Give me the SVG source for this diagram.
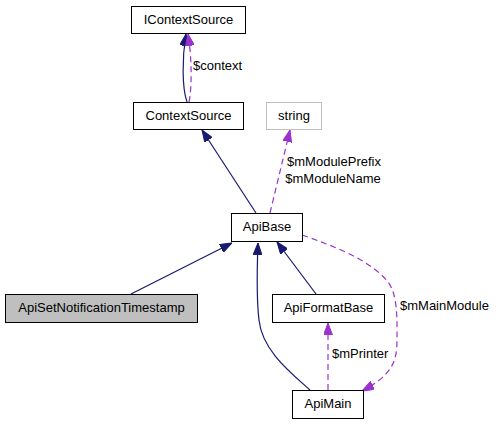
<svg xmlns="http://www.w3.org/2000/svg" width="496" height="424" viewBox="0 0 496 424">
<style>
text{font-family:"Liberation Sans",Arial,sans-serif;font-size:13px;fill:#000}
.n{text-anchor:middle}
.box{fill:#fff;stroke:#000;stroke-width:1}
.inh{fill:none;stroke:#191970;stroke-width:1.2}
.use{fill:none;stroke:#9a32cd;stroke-width:1.2;stroke-dasharray:6,4}
</style>
<defs>
<marker id="an" viewBox="0 0 12 9" refX="12" refY="4.5" markerWidth="12" markerHeight="9" markerUnits="userSpaceOnUse" orient="auto"><path d="M0,0 L12,4.5 L0,9 z" fill="#191970" stroke="#191970"/></marker>
<marker id="ap" viewBox="0 0 12 9" refX="12" refY="4.5" markerWidth="12" markerHeight="9" markerUnits="userSpaceOnUse" orient="auto"><path d="M0,0 L12,4.5 L0,9 z" fill="#9a32cd" stroke="#9a32cd"/></marker>
</defs>
<g id="edges">
<path class="inh" d="M187,102 C182,88 182,58 186,34" marker-end="url(#an)"/>
<path class="use" d="M189,102 C192,88 192,58 188,34" marker-end="url(#ap)"/>
<text x="193" y="70">$context</text>
<path class="inh" d="M256,213 L202,130" marker-end="url(#an)"/>
<path class="use" d="M270,213 L290,130" marker-end="url(#ap)"/>
<text class="n" x="334" y="166">$mModulePrefix</text>
<text class="n" x="333" y="183">$mModuleName</text>
<path class="inh" d="M131,294 L232,243" marker-end="url(#an)"/>
<path class="inh" d="M316,294 L277,242" marker-end="url(#an)"/>
<path class="inh" d="M310,390 C290,372 262,350 259,320 C256,295 257,270 258,243" marker-end="url(#an)"/>
<path class="use" d="M328,390 L328,323" marker-end="url(#ap)"/>
<text x="332" y="358">$mPrinter</text>
<path class="use" d="M302,235 C340,248 372,262 388,282 C398,295 397,320 397,340 C397,362 392,375 362,391" marker-end="url(#ap)"/>
<text x="400" y="310">$mMainModule</text>
</g>
<g id="IContextSource"><rect class="box" x="131.5" y="6.5" width="114" height="27"/><text class="n" x="188.5" y="24">IContextSource</text></g>
<g id="ContextSource"><rect class="box" x="133.5" y="102.5" width="110" height="27"/><text class="n" x="188.5" y="120">ContextSource</text></g>
<g id="string"><rect class="box" x="266.5" y="102.5" width="55" height="27" style="stroke:#bfbfbf"/><text class="n" x="294" y="120">string</text></g>
<g id="ApiBase"><rect class="box" x="231.5" y="213.5" width="71" height="28"/><text class="n" x="267" y="231">ApiBase</text></g>
<g id="ApiSetNotificationTimestamp"><rect class="box" x="5.5" y="294.5" width="192" height="28" style="fill:#bfbfbf"/><text class="n" x="101.5" y="312">ApiSetNotificationTimestamp</text></g>
<g id="ApiFormatBase"><rect class="box" x="272.5" y="294.5" width="112" height="28"/><text class="n" x="328.5" y="312">ApiFormatBase</text></g>
<g id="ApiMain"><rect class="box" x="292.5" y="390.5" width="71" height="28"/><text class="n" x="328" y="408">ApiMain</text></g>
</svg>
